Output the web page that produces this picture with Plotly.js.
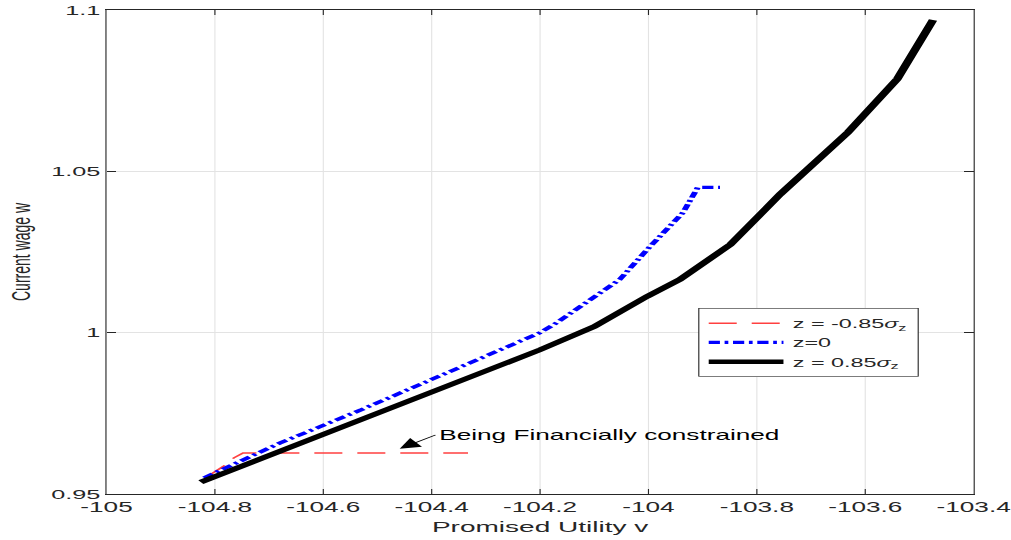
<!DOCTYPE html>
<html>
<head>
<meta charset="utf-8">
<script src="https://cdn.plot.ly/plotly-3.0.1.min.js"></script>
<style>
html,body{margin:0;padding:0;background:#fff;overflow:hidden;}
#wrap{width:1011px;height:540px;overflow:hidden;}
#chart{width:546px;height:540px;transform:scaleX(1.8688);transform-origin:0 0;}
</style>
</head>
<body>
<div id="wrap"><div id="chart"></div></div>
<script>
// Data
const redV = [-104.815, -104.785, -104.765, -104.748, -104.333];
const redW = [0.9553, 0.9585, 0.9612, 0.9627, 0.9627];

const blueV = [-104.82, -104.68, -104.53, -104.4, -104.2, -104.169, -104.053, -103.997, -103.936, -103.909, -103.868];
const blueW = [0.955, 0.9658, 0.9761, 0.9854, 1.0, 1.0031, 1.0165, 1.0267, 1.0373, 1.045, 1.045];

const blackV = [-104.826, -104.7, -104.6, -104.5, -104.4, -104.3, -104.2, -104.1, -104.003, -103.942, -103.849, -103.757, -103.632, -103.541, -103.475];
const blackW = [0.9537, 0.962, 0.9686, 0.975, 0.9816, 0.9881, 0.9947, 1.0019, 1.0112, 1.0165, 1.0273, 1.0429, 1.0621, 1.0786, 1.0969];

const seriesNames = ['z = -0.85<i>σ</i><sub>z</sub>', 'z=0', 'z = 0.85<i>σ</i><sub>z</sub>'];

const xTickVals = [-105, -104.8, -104.6, -104.4, -104.2, -104, -103.8, -103.6, -103.4];
const xTickText = ['-105', '-104.8', '-104.6', '-104.4', '-104.2', '-104', '-103.8', '-103.6', '-103.4'];
const yTickVals = [0.95, 1, 1.05, 1.1];
const yTickText = ['0.95', '1', '1.05', '1.1'];

const annotText = 'Being Financially constrained';
const arrowHead = {v: -104.459, w: 0.964};
const arrowTail = {v: -104.393, w: 0.9683};

const FONT = 'Liberation Sans, Arial, Helvetica, sans-serif';
const TXT = '#262626';

const traces = [
  {x: redV, y: redW, name: seriesNames[0], mode: 'lines',
   line: {color: '#ff4040', width: 1.4, dash: '15px,8px'}},
  {x: blueV, y: blueW, name: seriesNames[1], mode: 'lines',
   line: {color: '#0000ff', width: 3.2, dash: '6px,2.5px,2px,2.5px'}},
  {x: blackV, y: blackW, name: seriesNames[2], mode: 'lines',
   line: {color: '#000000', width: 4.6}}
];

const layout = {
  width: 546, height: 540,
  margin: {l: 57.26, r: 25.34, t: 10, b: 46},
  paper_bgcolor: '#fff', plot_bgcolor: '#fff',
  font: {family: FONT, color: TXT, size: 13},
  showlegend: true,
  legend: {
    x: 0.6824, y: 0.3843, xanchor: 'left', yanchor: 'top',
    bgcolor: '#fff', bordercolor: '#262626', borderwidth: 0.6,
    font: {family: FONT, size: 12.5, color: TXT},
    itemwidth: 40, tracegroupgap: 0
  },
  xaxis: {
    range: [-105, -103.4], tickmode: 'array', tickvals: xTickVals, ticktext: xTickText,
    ticks: 'inside', ticklen: 5, tickwidth: 0.6, tickcolor: '#262626',
    showline: true, linecolor: '#262626', linewidth: 1, mirror: 'ticks',
    showgrid: true, gridcolor: '#e3e3e3', gridwidth: 0.6, zeroline: false,
    ticklabeloverflow: 'allow',
    tickfont: {family: FONT, size: 14, color: TXT},
    title: {text: 'Promised Utility v', font: {family: FONT, size: 15, color: TXT}, standoff: 7}
  },
  yaxis: {
    range: [0.95, 1.1], tickmode: 'array', tickvals: yTickVals, ticktext: yTickText,
    ticks: 'inside', ticklen: 5, tickwidth: 1, tickcolor: '#262626',
    showline: true, linecolor: '#262626', linewidth: 0.6, mirror: 'ticks',
    showgrid: true, gridcolor: '#e3e3e3', gridwidth: 1, zeroline: false,
    ticklabeloverflow: 'allow',
    tickfont: {family: FONT, size: 13.5, color: TXT},
    title: {text: 'Current wage w', font: {family: FONT, size: 14, color: TXT}, standoff: 7}
  },
  annotations: [
    {x: arrowHead.v, y: arrowHead.w, ax: arrowTail.v, ay: arrowTail.w,
     xref: 'x', yref: 'y', axref: 'x', ayref: 'y', text: annotText,
     xanchor: 'left', yanchor: 'middle',
     showarrow: true, arrowhead: 2, arrowsize: 2.7, arrowwidth: 0.8, arrowcolor: '#000', standoff: 0, startstandoff: 0,
     font: {family: FONT, size: 14, color: '#000'}}
  ]
};

Plotly.newPlot('chart', traces, layout, {displayModeBar: false, staticPlot: true});
</script>
</body>
</html>
